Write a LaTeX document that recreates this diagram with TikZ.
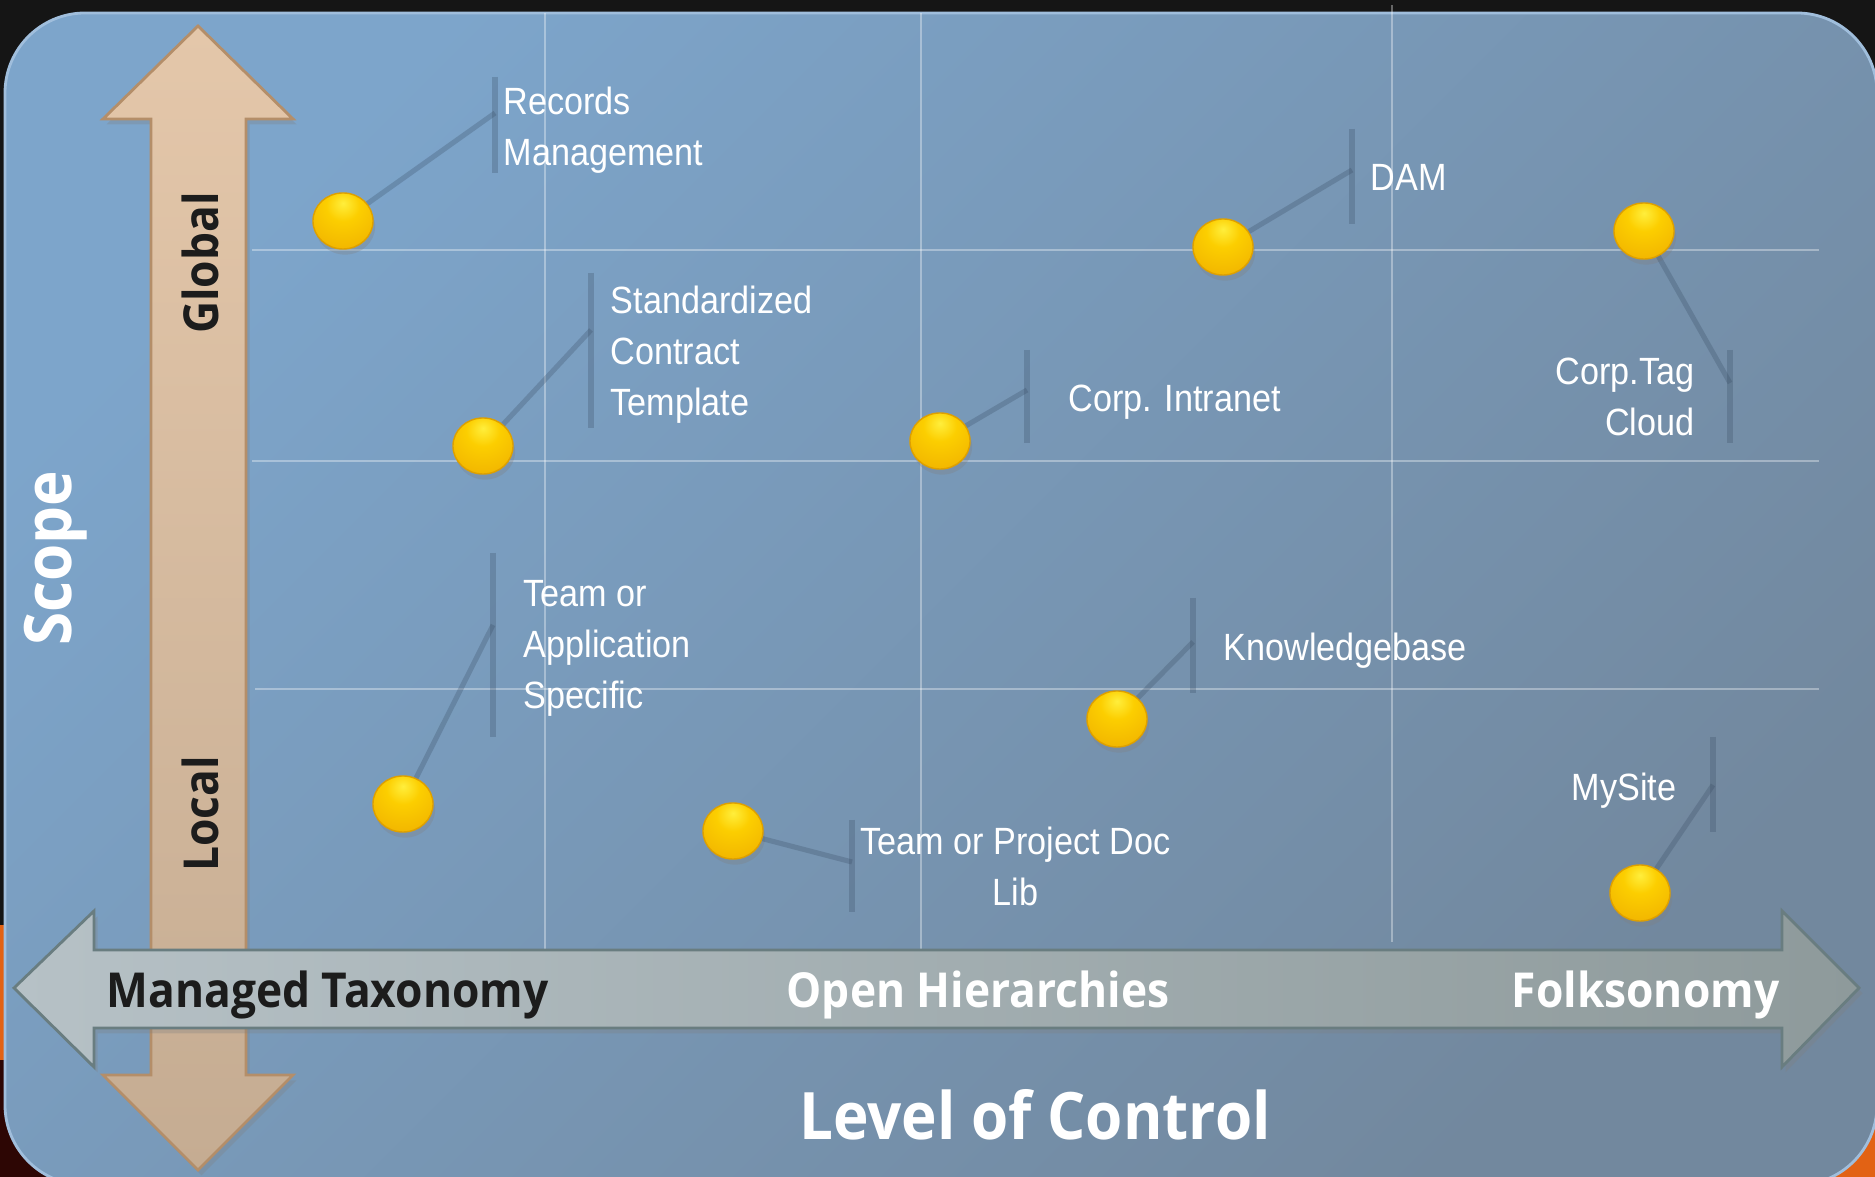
\documentclass[tikz,border=0pt]{standalone}
\usepackage{tikz}
\usepackage{xcolor}
\usepackage{fontspec}
\usetikzlibrary{shapes,arrows,positioning,shadows}
\newfontfamily\headfont[FakeStretch=0.92]{Open Sans}
\newfontfamily\itemfont[FakeStretch=0.9]{Liberation Sans}
\definecolor{outercolor}{RGB}{21,21,21}
\definecolor{outerorange}{RGB}{226,98,20}
\definecolor{outerred}{RGB}{45,6,4}
\definecolor{paneltop}{RGB}{125,165,203}
\definecolor{panelbottom}{RGB}{114,136,158}
\definecolor{panelrim}{RGB}{160,190,220}
\definecolor{tantop}{RGB}{228,199,170}
\definecolor{tanbottom}{RGB}{197,172,146}
\definecolor{tanedge}{RGB}{180,142,105}
\definecolor{barleft}{RGB}{182,193,198}
\definecolor{barright}{RGB}{142,154,155}
\definecolor{baredge}{RGB}{105,125,128}
\definecolor{axisdark}{RGB}{28,28,28}
\definecolor{linkcolor}{RGB}{55,75,98}
\definecolor{ballhi}{RGB}{255,238,60}
\definecolor{ballmid}{RGB}{252,206,0}
\definecolor{balllow}{RGB}{242,182,0}
\definecolor{balledge}{RGB}{222,160,0}
\pgfdeclareradialshading{pinball}{\pgfpoint{0bp}{16bp}}{color(0bp)=(ballhi); color(14bp)=(ballmid); color(36bp)=(balllow); color(62bp)=(balledge); color(100bp)=(balledge)}

\begin{document}
\begin{tikzpicture}[
    x=0.01cm, y=-0.01cm,
    ball/.style={ellipse, minimum width=0.6cm, minimum height=0.56cm, inner sep=0pt, draw=balledge, line width=0.4pt, shading=pinball, drop shadow={opacity=0.3, shadow xshift=0.6pt, shadow yshift=-1.6pt}},
    link/.style={draw=linkcolor, draw opacity=0.28, line width=1.45pt},
    gridline/.style={draw=white, opacity=0.35, line width=0.6pt},
    itemtext/.style={text=white, inner sep=0pt, font=\itemfont\fontsize{10.8}{14.5}\selectfont},
    axistext/.style={inner sep=0pt, font=\headfont\bfseries\fontsize{13.7}{16}\selectfont},
    bigtext/.style={inner sep=0pt, text=white, font=\headfont\bfseries\fontsize{18.6}{22}\selectfont}
]
\useasboundingbox (0,0) rectangle (1875,1177);

% Screen behind the slide
\fill[outercolor] (0,0) rectangle (1875,1177);
\fill[outerorange] (0,925) rectangle (8,1060);
\fill[outerred] (0,1060) rectangle (80,1177);
\fill[outerorange] (1760,1060) rectangle (1875,1177);

% Slide panel
\path[top color=paneltop, bottom color=panelbottom, shading angle=45, draw=panelrim, line width=0.8pt, rounded corners=0.8cm] (5,13) rectangle (1877,1185);

% Grid
\draw[gridline] (545,13) -- (545,955);
\draw[gridline] (921,13) -- (921,955);
\draw[gridline] (1392,5) -- (1392,942);
\draw[gridline] (252,250) -- (1819,250);
\draw[gridline] (252,461) -- (1819,461);
\draw[gridline] (255,689) -- (1819,689);

% Scope axis
\path[top color=tantop, bottom color=tanbottom, draw=tanedge, line width=0.8pt, drop shadow={opacity=0.3, shadow xshift=1pt, shadow yshift=-1.5pt}]
    (198,26) -- (293,119) -- (246,119) -- (246,1075) -- (293,1075) -- (198,1170)
    -- (103,1075) -- (151,1075) -- (151,119) -- (103,119) -- cycle;

% Level of control axis
\path[left color=barleft, right color=barright, draw=baredge, line width=0.8pt, drop shadow={opacity=0.3, shadow xshift=1pt, shadow yshift=-1.5pt}]
    (14,988) -- (94,911) -- (94,950) -- (1782,950) -- (1782,911) -- (1859,988)
    -- (1782,1067) -- (1782,1028) -- (94,1028) -- (94,1067) -- cycle;

% Axis labels
\node[axistext, text=axisdark, rotate=90] (global) at (200,263) {Global};
\node[axistext, text=axisdark, rotate=90] (local) at (200,814) {Local};
\node[bigtext, rotate=90] (scope) at (56,558) {Scope};
\node[axistext, text=axisdark, anchor=base west] (managed) at (106,1008) {Managed Taxonomy};
\node[axistext, text=white, anchor=base west] (open) at (786,1008) {Open Hierarchies};
\node[axistext, text=white, anchor=base east] (folk) at (1780,1008) {Folksonomy};
\node[bigtext, anchor=base] (control) at (1035,1140) {Level of Control};

% Balls
\node[ball] (recBall) at (343,221) {};
\node[ball] (stdBall) at (483,446) {};
\node[ball] (damBall) at (1223,247) {};
\node[ball] (tagBall) at (1644,231) {};
\node[ball] (intraBall) at (940,441) {};
\node[ball] (teamBall) at (403,804) {};
\node[ball] (kbBall) at (1117,719) {};
\node[ball] (docBall) at (733,831) {};
\node[ball] (siteBall) at (1640,893) {};

% Joints on the bars
\coordinate (recJoint) at (495,113);
\coordinate (stdJoint) at (591,330);
\coordinate (damJoint) at (1352,170);
\coordinate (tagJoint) at (1730,383);
\coordinate (intraJoint) at (1027,390);
\coordinate (teamJoint) at (493,625);
\coordinate (kbJoint) at (1193,642);
\coordinate (docJoint) at (852,862);
\coordinate (siteJoint) at (1713,785);

% Bars
\draw[link] (recJoint) ++(0,-36) -- ++(0,96);
\draw[link] (stdJoint) ++(0,-57) -- ++(0,155);
\draw[link] (damJoint) ++(0,-41) -- ++(0,95);
\draw[link] (tagJoint) ++(0,-33) -- ++(0,93);
\draw[link] (intraJoint) ++(0,-40) -- ++(0,93);
\draw[link] (teamJoint) ++(0,-72) -- ++(0,184);
\draw[link] (kbJoint) ++(0,-44) -- ++(0,95);
\draw[link] (docJoint) ++(0,-42) -- ++(0,92);
\draw[link] (siteJoint) ++(0,-48) -- ++(0,95);

% Links
\draw[link] (recBall) -- (recJoint);
\draw[link] (stdBall) -- (stdJoint);
\draw[link] (damBall) -- (damJoint);
\draw[link] (tagBall) -- (tagJoint);
\draw[link] (intraBall) -- (intraJoint);
\draw[link] (teamBall) -- (teamJoint);
\draw[link] (kbBall) -- (kbJoint);
\draw[link] (docBall) -- (docJoint);
\draw[link] (siteBall) -- (siteJoint);

% Item labels
\node[itemtext, anchor=north west, align=left] (recText) at (503,86) {Records\\Management};
\node[itemtext, anchor=north west, align=left] (stdText) at (610,285) {Standardized\\Contract\\Template};
\node[itemtext, anchor=north west, align=left] (damText) at (1370,164) {DAM};
\node[itemtext, anchor=north east, align=right] (tagText) at (1695,357) {Corp.Tag\\Cloud};
\node[itemtext, anchor=north west, align=left] (intraText) at (1068,384) {Corp. Intranet};
\node[itemtext, anchor=north west, align=left] (teamText) at (523,580) {Team or\\Application\\Specific};
\node[itemtext, anchor=north west, align=left] (kbText) at (1223,632) {Knowledgebase};
\node[itemtext, anchor=north west, align=center] (docText) at (860,826) {Team or Project Doc\\Lib};
\node[itemtext, anchor=north east, align=right] (siteText) at (1677,772) {MySite};

\end{tikzpicture}
\end{document}
